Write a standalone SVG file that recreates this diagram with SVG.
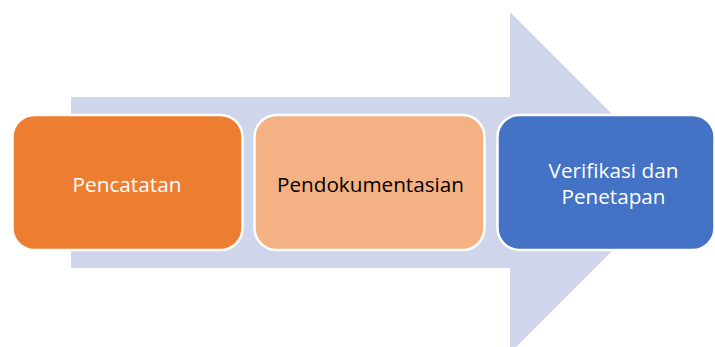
<svg xmlns="http://www.w3.org/2000/svg" width="715" height="347" viewBox="0 0 715 347">
<style>
.box{stroke:#ffffff;stroke-width:2.5}
.lbl{font-family:"Open Sans","Liberation Sans",sans-serif;font-size:20px}
</style>
<rect width="715" height="347" fill="#ffffff"/>
<g id="arrow">
<polygon points="71,97 510,97 510,12 680.5,182.5 510,353 510,268 71,268" fill="#CFD5EA"/>
</g>
<g id="node-pencatatan">
<rect class="box" x="12.5" y="115" width="230" height="135" rx="22" fill="#ED7D31"/>
<text class="lbl" x="127" y="191.5" text-anchor="middle" fill="#ffffff" textLength="109" lengthAdjust="spacingAndGlyphs">Pencatatan</text>
</g>
<g id="node-pendokumentasian">
<rect class="box" x="254.5" y="115" width="230" height="135" rx="22" fill="#F4B183"/>
<text class="lbl" x="370.5" y="191.5" text-anchor="middle" fill="#000000" textLength="187" lengthAdjust="spacingAndGlyphs">Pendokumentasian</text>
</g>
<g id="node-verifikasi">
<rect class="box" x="497.5" y="115" width="217" height="135" rx="22" fill="#4472C4"/>
<text class="lbl" x="613.5" y="178" text-anchor="middle" fill="#ffffff" textLength="130" lengthAdjust="spacingAndGlyphs">Verifikasi dan</text>
<text class="lbl" x="613.5" y="203.5" text-anchor="middle" fill="#ffffff" textLength="104" lengthAdjust="spacingAndGlyphs">Penetapan</text>
</g>
<g id="connectors"></g>
</svg>
